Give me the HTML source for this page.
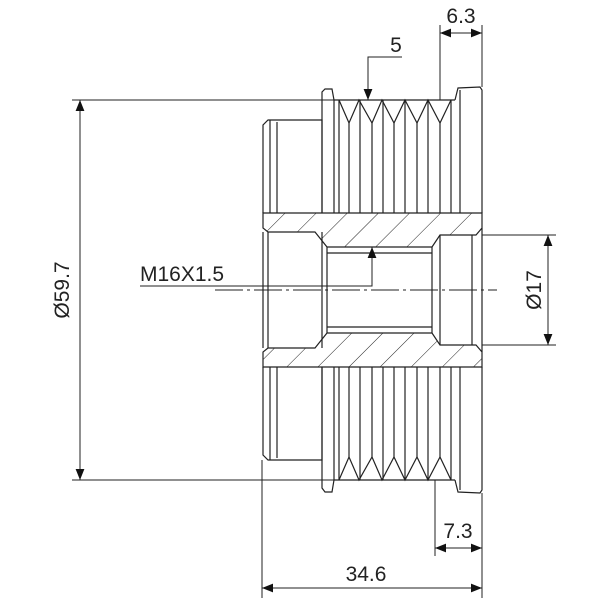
<!DOCTYPE html>
<html><head><style>body{margin:0;background:#fff}svg{display:block}text{font-family:"Liberation Sans",sans-serif;fill:#222}</style></head><body>
<svg width="600" height="600" viewBox="0 0 600 600" xmlns="http://www.w3.org/2000/svg">
<defs>
<pattern id="h" patternUnits="userSpaceOnUse" width="22" height="22" patternTransform="rotate(45)"><line x1="0" y1="0" x2="0" y2="22" stroke="#222" stroke-width="1"/></pattern>
<marker id="a" viewBox="0 0 10 10" refX="10" refY="5" markerWidth="11" markerHeight="11" markerUnits="userSpaceOnUse" orient="auto-start-reverse"><path d="M0,1 L10,5 L0,9z" fill="#111"/></marker>
</defs>
<g stroke="#222" stroke-width="1.2" fill="none">
<path d="M263,213 L482,213 L482,228 L476,235 L440,235 L432,247 L327,247 L315,232 L268,232 L263,228 Z" fill="url(#h)"/>
<path d="M263,367 L482,367 L482,352 L476,345 L440,345 L432,333 L327,333 L315,348 L268,348 L263,352 Z" fill="url(#h)"/>
<path d="M263,213 L263,125 L268,120 L322,120 L322,213"/>
<path d="M263,367 L263,455 L268,460 L322,460 L322,367"/>
<line x1="270" y1="120" x2="270" y2="213"/><line x1="277" y1="122" x2="277" y2="213"/>
<line x1="270" y1="367" x2="270" y2="460"/><line x1="277" y1="367" x2="277" y2="458"/>
<path d="M322,213 L322,92 L325,89 L332,89 L334,100 L334,213"/>
<path d="M322,367 L322,488 L325,492 L332,492 L334,480 L334,367"/>
<line x1="334" y1="100" x2="455" y2="100"/><line x1="334" y1="480" x2="455" y2="480"/>
<path d="M339,100 L349,123 L359,100 L372,123 L382,100 L394,123 L405,100 L417,123 L428,100 L440,123 L451,100"/>
<path d="M339,480 L349,457 L359,480 L372,457 L382,480 L394,457 L405,480 L417,457 L428,480 L440,457 L451,480"/>
<g>
<line x1="339" y1="100" x2="339" y2="213"/><line x1="349" y1="123" x2="349" y2="213"/><line x1="360" y1="100" x2="360" y2="213"/><line x1="372" y1="123" x2="372" y2="213"/><line x1="383" y1="100" x2="383" y2="213"/><line x1="394" y1="123" x2="394" y2="213"/><line x1="405" y1="100" x2="405" y2="213"/><line x1="417" y1="123" x2="417" y2="213"/><line x1="428" y1="100" x2="428" y2="213"/><line x1="440" y1="123" x2="440" y2="213"/><line x1="451" y1="100" x2="451" y2="213"/>
<line x1="339" y1="480" x2="339" y2="367"/><line x1="349" y1="457" x2="349" y2="367"/><line x1="360" y1="480" x2="360" y2="367"/><line x1="372" y1="457" x2="372" y2="367"/><line x1="383" y1="480" x2="383" y2="367"/><line x1="394" y1="457" x2="394" y2="367"/><line x1="405" y1="480" x2="405" y2="367"/><line x1="417" y1="457" x2="417" y2="367"/><line x1="428" y1="480" x2="428" y2="367"/><line x1="440" y1="457" x2="440" y2="367"/><line x1="451" y1="480" x2="451" y2="367"/>
</g>
<path d="M455,100 L458,88 L480,87 L482,90 L482,213"/>
<path d="M455,480 L458,492 L480,493 L482,490 L482,367"/>
<line x1="460" y1="90" x2="460" y2="213"/><line x1="460" y1="490" x2="460" y2="367"/>
<line x1="263" y1="232" x2="263" y2="348"/><line x1="268" y1="232" x2="268" y2="348"/>
<line x1="322" y1="232" x2="322" y2="348"/><line x1="327" y1="247" x2="327" y2="333"/>
<line x1="432" y1="247" x2="432" y2="333"/><line x1="440" y1="235" x2="440" y2="345"/>
<line x1="472" y1="235" x2="472" y2="345"/><line x1="482" y1="228" x2="482" y2="352"/>
<line x1="327" y1="253" x2="432" y2="253"/><line x1="327" y1="327" x2="432" y2="327"/>
</g>
<g stroke="#222" stroke-width="1">
<line x1="215" y1="290" x2="497" y2="290" stroke-dasharray="28,4,3,4"/>
<line x1="72" y1="100" x2="334" y2="100"/><line x1="72" y1="480" x2="334" y2="480"/>
<line x1="80" y1="100" x2="80" y2="480" marker-start="url(#a)" marker-end="url(#a)"/>
<line x1="482" y1="235" x2="556" y2="235"/><line x1="482" y1="345" x2="556" y2="345"/>
<line x1="548" y1="235" x2="548" y2="345" marker-start="url(#a)" marker-end="url(#a)"/>
<line x1="440" y1="25" x2="440" y2="100"/><line x1="482" y1="25" x2="482" y2="87"/>
<line x1="440" y1="33" x2="482" y2="33" marker-start="url(#a)" marker-end="url(#a)"/>
<polyline points="402,57 368,57 368,100" fill="none" marker-end="url(#a)"/>
<polyline points="140,286 372,286 372,247" fill="none" marker-end="url(#a)"/>
<line x1="435" y1="480" x2="435" y2="556"/><line x1="482" y1="493" x2="482" y2="598"/>
<line x1="435" y1="548" x2="482" y2="548" marker-start="url(#a)" marker-end="url(#a)"/>
<line x1="262" y1="460" x2="262" y2="598"/>
<line x1="262" y1="588" x2="482" y2="588" marker-start="url(#a)" marker-end="url(#a)"/>
</g>
<text x="461" y="23" font-size="21" text-anchor="middle">6.3</text>
<text x="396" y="52" font-size="21" text-anchor="middle">5</text>
<text x="140" y="281" font-size="21">M16X1.5</text>
<text x="458" y="538" font-size="21" text-anchor="middle">7.3</text>
<text x="366" y="581" font-size="21" text-anchor="middle">34.6</text>
<text transform="translate(69,290) rotate(-90)" font-size="21" text-anchor="middle">Ø59.7</text>
<text transform="translate(541,290) rotate(-90)" font-size="21" text-anchor="middle">Ø17</text>
</svg>
</body></html>
